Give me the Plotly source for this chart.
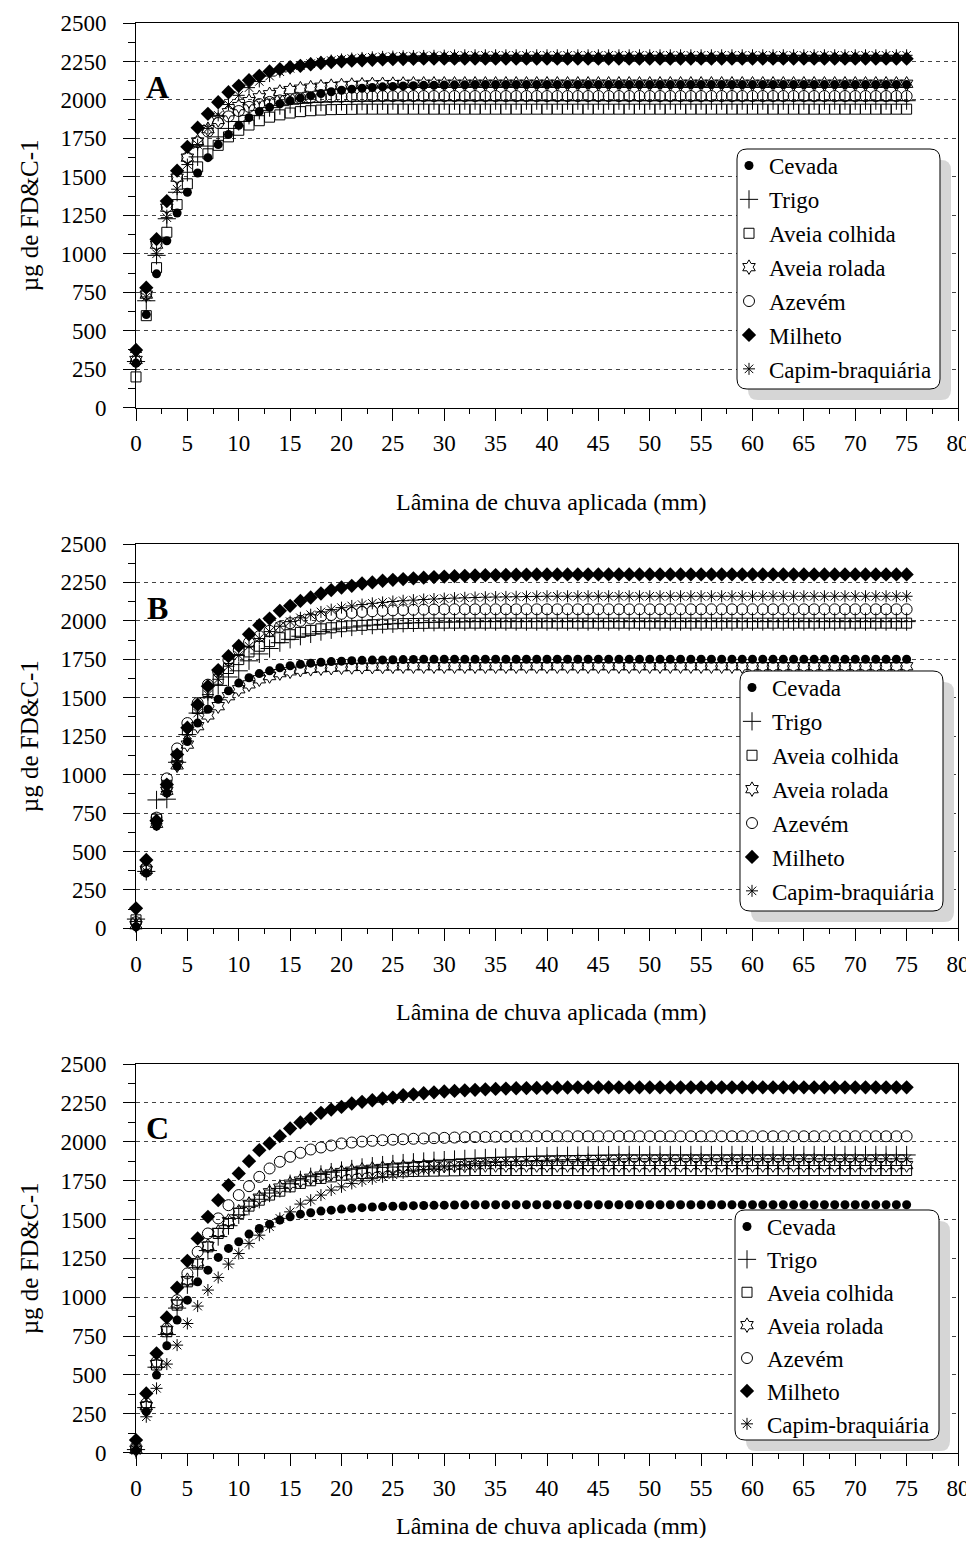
import plotly.graph_objects as go

W, H = 974, 1546
OFF = 8  # the page body margin that shifts the figure right and down
W_FIG, H_FIG = W - OFF, H - 2 * OFF

LAMINA = list(range(0, 76))
SERIES = ["Cevada", "Trigo", "Aveia colhida", "Aveia rolada", "Azevém", "Milheto", "Capim-braquiária"]
PANELS = ["A", "B", "C"]
Y_TICKS = [0, 250, 500, 750, 1000, 1250, 1500, 1750, 2000, 2250, 2500]
X_TICKS = [0, 5, 10, 15, 20, 25, 30, 35, 40, 45, 50, 55, 60, 65, 70, 75, 80]

# ---------------- Panel A ----------------
A_CEVADA = [290, 605, 870, 1085, 1265, 1400, 1525, 1625, 1710, 1775,
            1835, 1885, 1925, 1952, 1975, 1995, 2012, 2028, 2042, 2053,
            2063, 2070, 2076, 2081, 2085, 2088, 2091, 2093, 2095, 2096,
            2097, 2098, 2099, 2100, 2100, 2100, 2100, 2100, 2100, 2100,
            2100, 2100, 2100, 2100, 2100, 2100, 2100, 2100, 2100, 2100,
            2100, 2100, 2100, 2100, 2100, 2100, 2100, 2100, 2100, 2100,
            2100, 2100, 2100, 2100, 2100, 2100, 2100, 2100, 2100, 2100,
            2100, 2100, 2100, 2100, 2100, 2100]
A_TRIGO = [300, 695, 990, 1228, 1400, 1530, 1630, 1700, 1760, 1815,
           1860, 1900, 1932, 1950, 1963, 1972, 1978, 1983, 1986, 1988,
           1990, 1991, 1992, 1993, 1994, 1995, 1995, 1995, 1995, 1995,
           1995, 1995, 1995, 1995, 1995, 1995, 1995, 1995, 1995, 1995,
           1995, 1995, 1995, 1995, 1995, 1995, 1995, 1995, 1995, 1995,
           1995, 1995, 1995, 1995, 1995, 1995, 1995, 1995, 1995, 1995,
           1995, 1995, 1995, 1995, 1995, 1995, 1995, 1995, 1995, 1995,
           1995, 1995, 1995, 1995, 1995, 1995]
A_AVEIA_COLHIDA = [200, 598, 910, 1140, 1320, 1455, 1565, 1650, 1705, 1760,
                   1803, 1837, 1865, 1888, 1903, 1915, 1924, 1930, 1934, 1937,
                   1938, 1939, 1940, 1940, 1940, 1940, 1940, 1940, 1940, 1940,
                   1940, 1940, 1940, 1940, 1940, 1940, 1940, 1940, 1940, 1940,
                   1940, 1940, 1940, 1940, 1940, 1940, 1940, 1940, 1940, 1940,
                   1940, 1940, 1940, 1940, 1940, 1940, 1940, 1940, 1940, 1940,
                   1940, 1940, 1940, 1940, 1940, 1940, 1940, 1940, 1940, 1940,
                   1940, 1940, 1940, 1940, 1940, 1940]
A_AVEIA_ROLADA = [310, 735, 1060, 1300, 1495, 1625, 1730, 1810, 1870, 1920,
                  1960, 1992, 2017, 2037, 2052, 2064, 2073, 2080, 2086, 2090,
                  2094, 2097, 2099, 2101, 2102, 2103, 2104, 2105, 2105, 2105,
                  2105, 2105, 2105, 2105, 2105, 2105, 2105, 2105, 2105, 2105,
                  2105, 2105, 2105, 2105, 2105, 2105, 2105, 2105, 2105, 2105,
                  2105, 2105, 2105, 2105, 2105, 2105, 2105, 2105, 2105, 2105,
                  2105, 2105, 2105, 2105, 2105, 2105, 2105, 2105, 2105, 2105,
                  2105, 2105, 2105, 2105, 2105, 2105]
A_AZEVEM = [300, 740, 1065, 1305, 1500, 1625, 1725, 1795, 1850, 1893,
            1928, 1955, 1973, 1987, 1997, 2005, 2011, 2015, 2018, 2020,
            2021, 2022, 2023, 2024, 2025, 2025, 2025, 2025, 2025, 2025,
            2025, 2025, 2025, 2025, 2025, 2025, 2025, 2025, 2025, 2025,
            2025, 2025, 2025, 2025, 2025, 2025, 2025, 2025, 2025, 2025,
            2025, 2025, 2025, 2025, 2025, 2025, 2025, 2025, 2025, 2025,
            2025, 2025, 2025, 2025, 2025, 2025, 2025, 2025, 2025, 2025,
            2025, 2025, 2025, 2025, 2025, 2025]
A_MILHETO = [375, 780, 1095, 1343, 1540, 1695, 1820, 1910, 1985, 2050,
             2092, 2128, 2157, 2185, 2200, 2213, 2222, 2232, 2240, 2246,
             2251, 2255, 2258, 2261, 2263, 2265, 2266, 2267, 2268, 2268,
             2268, 2268, 2268, 2268, 2268, 2268, 2268, 2268, 2268, 2268,
             2268, 2268, 2268, 2268, 2268, 2268, 2268, 2268, 2268, 2268,
             2268, 2268, 2268, 2268, 2268, 2268, 2268, 2268, 2268, 2268,
             2268, 2268, 2268, 2268, 2268, 2268, 2268, 2268, 2268, 2268,
             2268, 2268, 2268, 2268, 2268, 2268]
A_CAPIM = [360, 720, 1000, 1235, 1420, 1580, 1710, 1815, 1900, 1970,
           2030, 2080, 2120, 2155, 2183, 2205, 2222, 2236, 2247, 2256,
           2263, 2269, 2273, 2277, 2280, 2282, 2284, 2285, 2286, 2287,
           2288, 2289, 2290, 2290, 2290, 2290, 2290, 2290, 2290, 2290,
           2290, 2290, 2290, 2290, 2290, 2290, 2290, 2290, 2290, 2290,
           2290, 2290, 2290, 2290, 2290, 2290, 2290, 2290, 2290, 2290,
           2290, 2290, 2290, 2290, 2290, 2290, 2290, 2290, 2290, 2290,
           2290, 2290, 2290, 2290, 2290, 2290]

# ---------------- Panel B ----------------
B_CEVADA = [10, 360, 665, 880, 1055, 1215, 1335, 1425, 1490, 1545,
            1595, 1630, 1657, 1675, 1695, 1708, 1717, 1725, 1731, 1735,
            1738, 1741, 1743, 1745, 1746, 1747, 1748, 1749, 1750, 1750,
            1750, 1750, 1750, 1750, 1750, 1750, 1750, 1750, 1750, 1750,
            1750, 1750, 1750, 1750, 1750, 1750, 1750, 1750, 1750, 1750,
            1750, 1750, 1750, 1750, 1750, 1750, 1750, 1750, 1750, 1750,
            1750, 1750, 1750, 1750, 1750, 1750, 1750, 1750, 1750, 1750,
            1750, 1750, 1750, 1750, 1750, 1750]
B_TRIGO = [60, 370, 835, 840, 1080, 1260, 1400, 1500, 1580, 1635,
           1675, 1740, 1785, 1820, 1858, 1880, 1900, 1915, 1930, 1942,
           1952, 1960, 1967, 1972, 1977, 1981, 1984, 1987, 1989, 1991,
           1992, 1993, 1994, 1995, 1995, 1995, 1995, 1995, 1995, 1995,
           1995, 1995, 1995, 1995, 1995, 1995, 1995, 1995, 1995, 1995,
           1995, 1995, 1995, 1995, 1995, 1995, 1995, 1995, 1995, 1995,
           1995, 1995, 1995, 1995, 1995, 1995, 1995, 1995, 1995, 1995,
           1995, 1995, 1995, 1995, 1995, 1995]
B_AVEIA_COLHIDA = [55, 380, 710, 930, 1120, 1290, 1430, 1540, 1620, 1690,
                   1748, 1798, 1835, 1865, 1890, 1910, 1925, 1938, 1948, 1955,
                   1962, 1967, 1971, 1975, 1978, 1980, 1982, 1983, 1984, 1985,
                   1985, 1985, 1985, 1985, 1985, 1985, 1985, 1985, 1985, 1985,
                   1985, 1985, 1985, 1985, 1985, 1985, 1985, 1985, 1985, 1985,
                   1985, 1985, 1985, 1985, 1985, 1985, 1985, 1985, 1985, 1985,
                   1985, 1985, 1985, 1985, 1985, 1985, 1985, 1985, 1985, 1985,
                   1985, 1985, 1985, 1985, 1985, 1985]
B_AVEIA_ROLADA = [20, 380, 680, 895, 1060, 1195, 1315, 1385, 1445, 1510,
                  1555, 1587, 1620, 1641, 1660, 1672, 1682, 1688, 1692, 1695,
                  1698, 1700, 1701, 1702, 1703, 1704, 1705, 1705, 1705, 1705,
                  1705, 1705, 1705, 1705, 1705, 1705, 1705, 1705, 1705, 1705,
                  1705, 1705, 1705, 1705, 1705, 1705, 1705, 1705, 1705, 1705,
                  1705, 1705, 1705, 1705, 1705, 1705, 1705, 1705, 1705, 1705,
                  1705, 1705, 1705, 1705, 1705, 1705, 1705, 1705, 1705, 1705,
                  1705, 1705, 1705, 1705, 1705, 1705]
B_AZEVEM = [40, 395, 720, 975, 1170, 1335, 1465, 1585, 1670, 1745,
            1810, 1860, 1900, 1935, 1960, 1985, 2000, 2015, 2028, 2038,
            2046, 2052, 2058, 2062, 2065, 2068, 2070, 2072, 2073, 2074,
            2075, 2075, 2075, 2075, 2075, 2075, 2075, 2075, 2075, 2075,
            2075, 2075, 2075, 2075, 2075, 2075, 2075, 2075, 2075, 2075,
            2075, 2075, 2075, 2075, 2075, 2075, 2075, 2075, 2075, 2075,
            2075, 2075, 2075, 2075, 2075, 2075, 2075, 2075, 2075, 2075,
            2075, 2075, 2075, 2075, 2075, 2075]
B_MILHETO = [130, 445, 700, 935, 1130, 1305, 1455, 1575, 1680, 1770,
             1837, 1913, 1972, 2015, 2065, 2098, 2130, 2152, 2178, 2200,
             2217, 2228, 2243, 2250, 2261, 2267, 2272, 2277, 2281, 2285,
             2288, 2291, 2293, 2295, 2297, 2298, 2299, 2300, 2301, 2302,
             2302, 2302, 2302, 2302, 2302, 2302, 2302, 2302, 2302, 2302,
             2302, 2302, 2302, 2302, 2302, 2302, 2302, 2302, 2302, 2302,
             2302, 2302, 2302, 2302, 2302, 2302, 2302, 2302, 2302, 2302,
             2302, 2302, 2302, 2302, 2302, 2302]
B_CAPIM = [45, 370, 680, 890, 1090, 1260, 1400, 1520, 1620, 1705,
           1775, 1835, 1885, 1930, 1965, 1995, 2020, 2040, 2058, 2073,
           2086, 2097, 2106, 2114, 2120, 2126, 2131, 2135, 2139, 2142,
           2145, 2148, 2150, 2152, 2154, 2155, 2156, 2157, 2158, 2159,
           2160, 2160, 2160, 2160, 2160, 2160, 2160, 2160, 2160, 2160,
           2160, 2160, 2160, 2160, 2160, 2160, 2160, 2160, 2160, 2160,
           2160, 2160, 2160, 2160, 2160, 2160, 2160, 2160, 2160, 2160,
           2160, 2160, 2160, 2160, 2160, 2160]

# ---------------- Panel C ----------------
C_CEVADA = [17, 264, 499, 688, 853, 981, 1099, 1174, 1256, 1314,
            1357, 1406, 1442, 1470, 1496, 1517, 1534, 1543, 1554, 1560,
            1567, 1572, 1576, 1580, 1583, 1585, 1587, 1589, 1590, 1591,
            1592, 1593, 1594, 1595, 1595, 1595, 1595, 1595, 1595, 1595,
            1595, 1595, 1595, 1595, 1595, 1595, 1595, 1595, 1595, 1595,
            1595, 1595, 1595, 1595, 1595, 1595, 1595, 1595, 1595, 1595,
            1595, 1595, 1595, 1595, 1595, 1595, 1595, 1595, 1595, 1595,
            1595, 1595, 1595, 1595, 1595, 1595]
C_TRIGO = [20, 290, 550, 760, 930, 1080, 1190, 1300, 1390, 1460,
           1530, 1585, 1630, 1670, 1700, 1730, 1755, 1775, 1790, 1805,
           1815, 1825, 1835, 1843, 1850, 1857, 1863, 1868, 1873, 1878,
           1882, 1886, 1890, 1893, 1896, 1899, 1901, 1903, 1905, 1907,
           1908, 1909, 1910, 1911, 1912, 1913, 1914, 1915, 1915, 1915,
           1915, 1915, 1915, 1915, 1915, 1915, 1915, 1915, 1915, 1915,
           1915, 1915, 1915, 1915, 1915, 1915, 1915, 1915, 1915, 1915,
           1915, 1915, 1915, 1915, 1915, 1915]
C_AVEIA_COLHIDA = [25, 296, 564, 778, 949, 1099, 1213, 1324, 1410, 1474,
                   1539, 1586, 1624, 1657, 1682, 1710, 1732, 1749, 1764, 1774,
                   1785, 1792, 1796, 1800, 1803, 1805, 1807, 1809, 1810, 1811,
                   1812, 1813, 1814, 1815, 1815, 1815, 1815, 1815, 1815, 1815,
                   1815, 1815, 1815, 1815, 1815, 1815, 1815, 1815, 1815, 1815,
                   1815, 1815, 1815, 1815, 1815, 1815, 1815, 1815, 1815, 1815,
                   1815, 1815, 1815, 1815, 1815, 1815, 1815, 1815, 1815, 1815,
                   1815, 1815, 1815, 1815, 1815, 1815]
C_AVEIA_ROLADA = [20, 300, 570, 790, 960, 1110, 1225, 1330, 1420, 1490,
                  1550, 1600, 1640, 1675, 1705, 1730, 1750, 1768, 1782, 1795,
                  1805, 1813, 1820, 1826, 1831, 1835, 1838, 1841, 1843, 1845,
                  1846, 1847, 1848, 1849, 1850, 1850, 1850, 1850, 1850, 1850,
                  1850, 1850, 1850, 1850, 1850, 1850, 1850, 1850, 1850, 1850,
                  1850, 1850, 1850, 1850, 1850, 1850, 1850, 1850, 1850, 1850,
                  1850, 1850, 1850, 1850, 1850, 1850, 1850, 1850, 1850, 1850,
                  1850, 1850, 1850, 1850, 1850, 1850]
C_AZEVEM = [28, 317, 585, 799, 981, 1153, 1292, 1410, 1507, 1592,
            1657, 1714, 1774, 1828, 1871, 1903, 1929, 1950, 1963, 1976,
            1989, 1995, 2001, 2006, 2010, 2013, 2016, 2019, 2021, 2023,
            2025, 2027, 2029, 2030, 2031, 2032, 2033, 2034, 2035, 2035,
            2035, 2035, 2035, 2035, 2035, 2035, 2035, 2035, 2035, 2035,
            2035, 2035, 2035, 2035, 2035, 2035, 2035, 2035, 2035, 2035,
            2035, 2035, 2035, 2035, 2035, 2035, 2035, 2035, 2035, 2035,
            2035, 2035, 2035, 2035, 2035, 2035]
C_MILHETO = [81, 381, 639, 870, 1061, 1234, 1378, 1517, 1624, 1721,
             1796, 1875, 1946, 1989, 2036, 2085, 2124, 2149, 2186, 2207,
             2224, 2246, 2257, 2267, 2278, 2284, 2299, 2305, 2312, 2318,
             2323, 2327, 2331, 2334, 2337, 2340, 2342, 2344, 2345, 2346,
             2347, 2348, 2349, 2350, 2350, 2350, 2350, 2350, 2350, 2350,
             2350, 2350, 2350, 2350, 2350, 2350, 2350, 2350, 2350, 2350,
             2350, 2350, 2350, 2350, 2350, 2350, 2350, 2350, 2350, 2350,
             2350, 2350, 2350, 2350, 2350, 2350]
C_CAPIM = [17, 231, 414, 570, 692, 831, 943, 1046, 1127, 1213,
           1281, 1346, 1399, 1453, 1507, 1549, 1599, 1624, 1657, 1689,
           1710, 1732, 1749, 1762, 1775, 1788, 1800, 1811, 1821, 1830,
           1838, 1845, 1852, 1858, 1863, 1867, 1871, 1874, 1877, 1879,
           1881, 1883, 1884, 1885, 1886, 1887, 1888, 1889, 1890, 1890,
           1890, 1890, 1890, 1890, 1890, 1890, 1890, 1890, 1890, 1890,
           1890, 1890, 1890, 1890, 1890, 1890, 1890, 1890, 1890, 1890,
           1890, 1890, 1890, 1890, 1890, 1890]

PANEL_DATA = {
    "A": [A_CEVADA, A_TRIGO, A_AVEIA_COLHIDA, A_AVEIA_ROLADA, A_AZEVEM, A_MILHETO, A_CAPIM],
    "B": [B_CEVADA, B_TRIGO, B_AVEIA_COLHIDA, B_AVEIA_ROLADA, B_AZEVEM, B_MILHETO, B_CAPIM],
    "C": [C_CEVADA, C_TRIGO, C_AVEIA_COLHIDA, C_AVEIA_ROLADA, C_AZEVEM, C_MILHETO, C_CAPIM],
}

# ---------------- styling ----------------
FONT = "Liberation Serif"
MARKERS = [
    dict(symbol="circle", size=9, color="black"),
    dict(symbol="cross-thin-open", size=13, color="black", line=dict(width=1, color="black")),
    dict(symbol="square-open", size=10, color="black", line=dict(width=1, color="black")),
    dict(symbol="hexagram-open", size=11, color="black", line=dict(width=1, color="black")),
    dict(symbol="circle-open", size=11, color="black", line=dict(width=1, color="black")),
    dict(symbol="diamond", size=11, color="black"),
    dict(symbol="asterisk-open", size=10, color="black", line=dict(width=1, color="black")),
]

# pixel geometry (page pixels) of each panel: (top, bottom, x-title centre)
PANEL_PX = {"A": (23, 407.7, 502), "B": (544, 928.3, 1012), "C": (1064, 1452.7, 1526)}
X_LEFT, X_RIGHT = 136, 958
LEGEND_BOX = {"A": (737, 149, 940, 389), "B": (740, 671, 943, 911), "C": (735, 1210, 939, 1440)}
GROUP_GAP = {"A": 1, "B": 1, "C": 0}


def px_x(p):
    return (p - OFF) / W_FIG


def px_y(p):
    return 1 - (p - OFF) / H_FIG


def rrect(x0, y0, x1, y1, r):
    pts = [
        ("M", [(x0 + r, y0)]), ("L", [(x1 - r, y0)]), ("Q", [(x1, y0), (x1, y0 + r)]),
        ("L", [(x1, y1 - r)]), ("Q", [(x1, y1), (x1 - r, y1)]), ("L", [(x0 + r, y1)]),
        ("Q", [(x0, y1), (x0, y1 - r)]), ("L", [(x0, y0 + r)]), ("Q", [(x0, y0), (x0 + r, y0)]),
    ]
    s = ""
    for cmd, ps in pts:
        s += cmd + " " + " ".join(f"{px_x(a):.5f},{px_y(b):.5f}" for a, b in ps) + " "
    return s + "Z"


fig = go.Figure()
layout = dict(
    width=W_FIG, height=H_FIG,
    margin=dict(l=0, r=0, t=0, b=0, autoexpand=False),
    paper_bgcolor="white", plot_bgcolor="white",
    font=dict(family=FONT, size=23, color="black"),
    showlegend=True,
)
shapes = []
annotations = []

for i, p in enumerate(PANELS):
    suffix = "" if i == 0 else str(i + 1)
    xa, ya = "x" + suffix, "y" + suffix
    legend_name = "legend" + suffix
    for j, name in enumerate(SERIES):
        fig.add_trace(go.Scatter(
            x=LAMINA, y=PANEL_DATA[p][j], name=name, mode="markers",
            marker=MARKERS[j], xaxis=xa, yaxis=ya, legend=legend_name,
            legendgroup=f"{p}{j}", cliponaxis=False,
        ))
    top, bot, xt = PANEL_PX[p]
    layout["xaxis" + suffix] = dict(
        domain=[px_x(X_LEFT), px_x(X_RIGHT)], anchor=ya, range=[0, 80],
        tickmode="array", tickvals=X_TICKS, ticks="outside", ticklen=12, tickwidth=1,
        tickcolor="black", showline=True, linecolor="black", linewidth=1, mirror=True,
        showgrid=False, zeroline=False, ticklabelstandoff=3, automargin=False,
        tickfont=dict(family=FONT, size=23, color="black"),
        minor=dict(dtick=2.5, ticks="outside", ticklen=5, tickcolor="black", showgrid=False),
    )
    layout["yaxis" + suffix] = dict(
        domain=[px_y(bot), px_y(top)], anchor=xa, range=[0, 2500],
        tickmode="array", tickvals=Y_TICKS, ticks="outside", ticklen=12, tickwidth=1,
        tickcolor="black", showline=True, linecolor="black", linewidth=1, mirror=True,
        showgrid=True, gridcolor="#444444", gridwidth=1, griddash="4px,4px",
        zeroline=False, ticklabelstandoff=12, automargin=False,
        tickfont=dict(family=FONT, size=23, color="black"),
        minor=dict(dtick=125, ticks="outside", ticklen=7, tickcolor="black", showgrid=False),
    )
    bx0, by0, bx1, by1 = LEGEND_BOX[p]
    layout[legend_name] = dict(
        x=px_x(bx0 - 8), y=px_y(by0 - 5), xanchor="left", yanchor="top",
        bgcolor="rgba(0,0,0,0)", borderwidth=0, traceorder="grouped",
        tracegroupgap=GROUP_GAP[p], font=dict(family=FONT, size=23, color="black"),
        itemsizing="trace",
    )
    shapes.append(dict(type="path", xref="paper", yref="paper", layer="above",
                       path=rrect(bx0 + 11, by0 + 11, bx1 + 11, by1 + 11, 10),
                       fillcolor="#d6d6d6", line=dict(width=0)))
    shapes.append(dict(type="path", xref="paper", yref="paper", layer="above",
                       path=rrect(bx0, by0, bx1, by1, 10),
                       fillcolor="white", line=dict(width=1, color="black")))
    # panel letter
    annotations.append(dict(text=f"<b>{p}</b>", xref="paper", yref="paper",
                            x=px_x(157), y=px_y(top + 64), xanchor="center", yanchor="middle",
                            showarrow=False, font=dict(family=FONT, size=32, color="black")))
    # axis titles
    annotations.append(dict(text="µg de FD&amp;C-1", xref="paper", yref="paper",
                            x=px_x(29), y=px_y((top + bot) / 2), xanchor="center", yanchor="middle",
                            textangle=-90, showarrow=False,
                            font=dict(family=FONT, size=25, color="black")))
    annotations.append(dict(text="Lâmina de chuva aplicada (mm)", xref="paper", yref="paper",
                            x=px_x(551), y=px_y(xt), xanchor="center", yanchor="middle",
                            showarrow=False, font=dict(family=FONT, size=24, color="black")))

layout["shapes"] = shapes
layout["annotations"] = annotations
fig.update_layout(**layout)
fig.write_html("out.html")
